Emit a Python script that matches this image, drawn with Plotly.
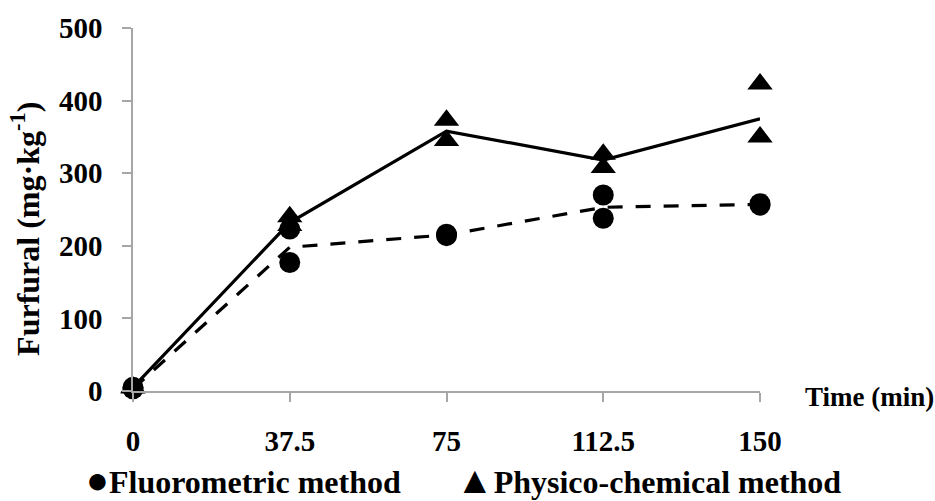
import plotly.graph_objects as go

times = [0, 37.5, 75, 112.5, 150]
tick_labels = ["0", "37.5", "75", "112.5", "150"]

# replicate measurements
fluo_x = [0, 0, 37.5, 37.5, 75, 75, 112.5, 112.5, 150, 150]
fluo_y = [5, 3, 223, 177, 216, 214, 270, 238, 258, 256]
phys_x = [0, 0, 37.5, 37.5, 75, 75, 112.5, 112.5, 150, 150]
phys_y = [5, 4, 240, 228, 373, 345, 326, 308, 423, 350]

# mean curves
fluo_mean = [3, 198, 215, 253, 257]
phys_mean = [5, 232, 358, 318, 375]

series_names = ["Fluorometric method", "Physico-chemical method"]
legend_glyphs = ["●", "▲"]
y_title = "Furfural (mg·kg<sup>-1</sup>)"
x_title = "Time (min)"

FONT = "Liberation Serif"

fig = go.Figure()
fig.add_trace(go.Scatter(x=times, y=phys_mean, mode="lines",
                         line=dict(color="black", width=3.2), showlegend=False,
                         cliponaxis=False))
fig.add_trace(go.Scatter(x=times, y=fluo_mean, mode="lines",
                         line=dict(color="black", width=3.2, dash="15px,13px"),
                         showlegend=False, cliponaxis=False))
fig.add_trace(go.Scatter(x=fluo_x, y=fluo_y, mode="markers", name=series_names[0],
                         marker=dict(symbol="circle", size=21, color="black"),
                         showlegend=False, cliponaxis=False))
fig.add_trace(go.Scatter(x=phys_x, y=phys_y, mode="markers", name=series_names[1],
                         marker=dict(symbol="triangle-up", size=22, color="black"),
                         showlegend=False, cliponaxis=False))

fig.update_layout(
    width=935, height=501,
    margin=dict(l=133, r=175, t=26, b=110),
    plot_bgcolor="white", paper_bgcolor="white",
    font=dict(family=FONT, color="black"),
    showlegend=False,
    xaxis=dict(range=[0, 150], tickvals=times, ticktext=tick_labels,
               showgrid=False, zeroline=False, showline=True, linecolor="#a6a6a6",
               linewidth=1.5, ticks="outside", ticklen=9, tickcolor="#a6a6a6",
               tickwidth=1.5, ticklabelstandoff=14,
               tickfont=dict(family=FONT, size=29, color="black", weight="bold")),
    yaxis=dict(range=[0, 500], tickvals=[0, 100, 200, 300, 400, 500],
               showgrid=False, zeroline=False, showline=True, linecolor="#a6a6a6",
               linewidth=1.5, ticks="outside", ticklen=9, tickcolor="#a6a6a6",
               tickwidth=1.5, ticklabelstandoff=14,
               tickfont=dict(family=FONT, size=29, color="black", weight="bold")),
)
fig.add_annotation(text=y_title, xref="paper", yref="paper", x=-0.172, y=0.447,
                   xanchor="center", yanchor="middle", textangle=-90, showarrow=False,
                   font=dict(family=FONT, size=32, color="black", weight="bold"))
fig.add_annotation(text=x_title, xref="paper", yref="paper", x=1.068, y=0.0,
                   xanchor="left", yanchor="middle", showarrow=False, yshift=-6,
                   font=dict(family=FONT, size=27, color="black", weight="bold"))

legend_x = [-0.078, 0.512]
for name, glyph, lx in zip(series_names, legend_glyphs, legend_x):
    fig.add_annotation(text=f"<span style='font-size:38px'>{glyph}</span>{name}",
                       xref="paper", yref="paper",
                       x=lx, y=-0.246, xanchor="left", yanchor="middle",
                       showarrow=False,
                       font=dict(family=FONT, size=32, color="black", weight="bold"))

fig.write_html("out.html")
